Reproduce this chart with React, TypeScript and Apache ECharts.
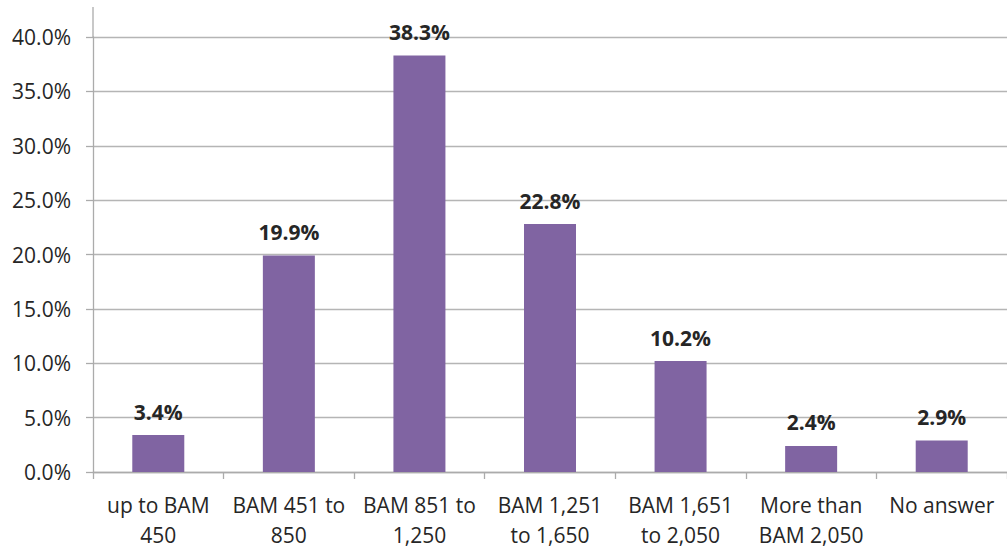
import React, { useEffect, useRef } from "react";
import * as echarts from "echarts";

const categories: string[] = [
  "up to BAM\n450",
  "BAM 451 to\n850",
  "BAM 851 to\n1,250",
  "BAM 1,251\nto 1,650",
  "BAM 1,651\nto 2,050",
  "More than\nBAM 2,050",
  "No answer",
];
const values: number[] = [3.4, 19.9, 38.3, 22.8, 10.2, 2.4, 2.9];
const yMin = 0;
const yMax = 40;
const yInterval = 5;

const FONT = "'Open Sans', 'Noto Sans', sans-serif";

export default function App() {
  const ref = useRef<HTMLDivElement>(null);
  useEffect(() => {
    if (!ref.current) return;
    const chart = echarts.init(ref.current, null, { renderer: "svg" });
    chart.setOption({
      animation: false,
      backgroundColor: "#ffffff",
      grid: { left: 93, right: -8, top: 37, bottom: 73, containLabel: false },
      xAxis: {
        type: "category",
        data: categories,
        axisLine: { show: true, lineStyle: { color: "#ABABAB", width: 1.3 } },
        axisTick: { show: true, length: 7, lineStyle: { color: "#ABABAB", width: 1.3 } },
        axisLabel: {
          interval: 0,
          margin: 18,
          fontFamily: FONT,
          fontSize: 21,
          lineHeight: 30,
          color: "#262626",
        },
      },
      yAxis: {
        type: "value",
        min: yMin,
        max: yMax,
        interval: yInterval,
        axisLine: { show: true, lineStyle: { color: "#ABABAB", width: 1.3 } },
        axisTick: { show: true, length: 7, lineStyle: { color: "#ABABAB", width: 1.3 } },
        splitLine: { show: true, lineStyle: { color: "#B5B5B5", width: 1.3 } },
        axisLabel: {
          margin: 22,
          fontFamily: FONT,
          fontSize: 21,
          color: "#262626",
          formatter: (v: number) => v.toFixed(1) + "%",
        },
      },
      series: [
        {
          type: "bar",
          data: values,
          barWidth: 52,
          itemStyle: { color: "#8064A2" },
          label: {
            show: true,
            position: "top",
            distance: 13,
            fontFamily: FONT,
            fontWeight: "bold",
            fontSize: 21,
            color: "#262626",
            formatter: (p: any) => Number(p.value).toFixed(1) + "%",
          },
        },
      ],
      graphic: [
        {
          type: "line",
          shape: { x1: 93, y1: 7, x2: 93, y2: 37 },
          style: { stroke: "#ABABAB", lineWidth: 1.3 },
        },
      ],
    });
    return () => chart.dispose();
  }, []);
  return (
    <div
      ref={ref}
      style={{ position: "fixed", left: 0, top: 0, width: 1007, height: 550 }}
    />
  );
}
